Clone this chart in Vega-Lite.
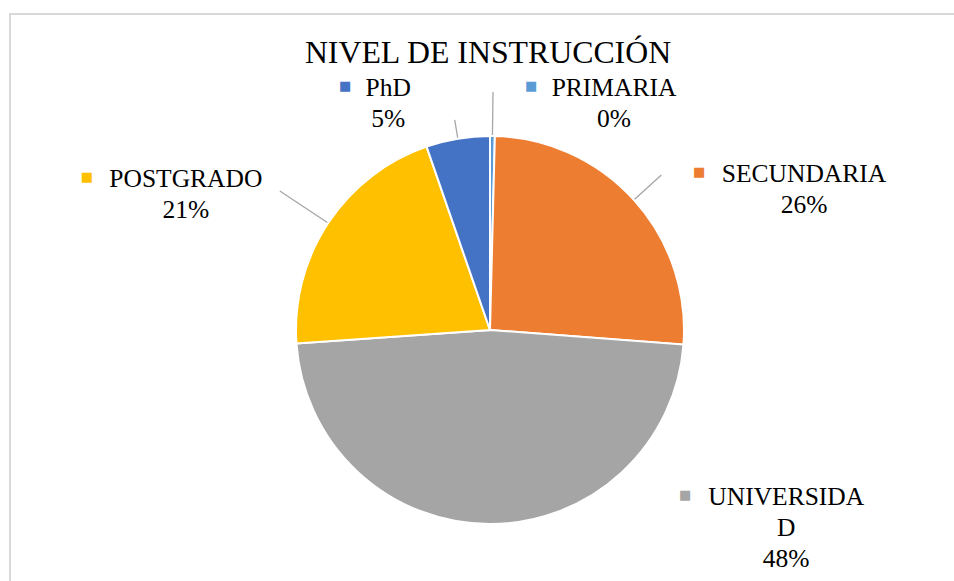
{
  "$schema": "https://vega.github.io/schema/vega-lite/v6.json",
  "width": 960,
  "height": 632,
  "autosize": "none",
  "padding": {"left": 10, "top": 14, "right": -16, "bottom": -65},
  "background": "white",
  "view": {"stroke": "#d9d9d9", "strokeWidth": 2, "fill": "white"},
  "config": {
    "view": {"stroke": "#d9d9d9", "strokeWidth": 2},
    "text": {"font": "Liberation Serif"}
  },
  "title": {
    "text": "NIVEL DE INSTRUCCIÓN",
    "font": "Liberation Serif",
    "fontSize": 31.8,
    "fontWeight": "normal",
    "color": "#000000",
    "anchor": "middle",
    "baseline": "alphabetic",
    "offset": -90,
    "dx": -2
  },
  "data": {
    "values": [
      {"nivel": "PRIMARIA", "porcentaje": 0.4, "orden": 1, "etiqueta": ["PRIMARIA", "0%"]},
      {"nivel": "SECUNDARIA", "porcentaje": 25.8, "orden": 2, "etiqueta": ["SECUNDARIA", "26%"]},
      {"nivel": "UNIVERSIDAD", "porcentaje": 47.7, "orden": 3, "etiqueta": ["UNIVERSIDA", "D", "48%"]},
      {"nivel": "POSTGRADO", "porcentaje": 20.8, "orden": 4, "etiqueta": ["POSTGRADO", "21%"]},
      {"nivel": "PhD", "porcentaje": 5.3, "orden": 5, "etiqueta": ["PhD", "5%"]}
    ]
  },
  "encoding": {
    "theta": {"field": "porcentaje", "type": "quantitative", "stack": true},
    "order": {"field": "orden", "type": "quantitative"}
  },
  "layer": [
    {
      "mark": {"type": "arc", "radius": 194, "stroke": "white", "strokeWidth": 2},
      "encoding": {
        "color": {
          "field": "nivel",
          "type": "nominal",
          "scale": {
            "domain": ["PRIMARIA", "SECUNDARIA", "UNIVERSIDAD", "POSTGRADO", "PhD"],
            "range": ["#5B9BD5", "#ED7D31", "#A5A5A5", "#FFC000", "#4472C4"]
          },
          "legend": null
        }
      }
    },
    {
      "mark": {"type": "arc", "radius": 238, "radius2": 195, "padAngle": 3, "filled": false, "stroke": "#a6a6a6", "strokeWidth": 1.3},
      "encoding": {"strokeOpacity": {"condition": {"test": "datum.nivel === 'PRIMARIA'", "value": 1}, "value": 0}}
    },
    {
      "mark": {"type": "arc", "radius": 231, "radius2": 195, "padAngle": 3, "filled": false, "stroke": "#a6a6a6", "strokeWidth": 1.3},
      "encoding": {"strokeOpacity": {"condition": {"test": "datum.nivel === 'SECUNDARIA'", "value": 1}, "value": 0}}
    },
    {
      "mark": {"type": "arc", "radius": 252, "radius2": 195, "padAngle": 3, "filled": false, "stroke": "#a6a6a6", "strokeWidth": 1.3},
      "encoding": {"strokeOpacity": {"condition": {"test": "datum.nivel === 'POSTGRADO'", "value": 1}, "value": 0}}
    },
    {
      "mark": {"type": "arc", "radius": 213, "radius2": 195, "padAngle": 3, "filled": false, "stroke": "#a6a6a6", "strokeWidth": 1.3},
      "encoding": {"strokeOpacity": {"condition": {"test": "datum.nivel === 'PhD'", "value": 1}, "value": 0}}
    },
    {
      "mark": {"type": "text", "radius": 240, "dx": 121, "dy": 6, "fontSize": 25.5, "lineHeight": 31, "align": "center", "baseline": "alphabetic", "color": "#000000"},
      "encoding": {"text": {"condition": {"test": "datum.nivel === 'PRIMARIA'", "field": "etiqueta"}, "value": ""}}
    },
    {
      "mark": {"type": "text", "radius": 240, "dx": 136, "dy": 13, "fontSize": 25.5, "lineHeight": 31, "align": "center", "baseline": "alphabetic", "color": "#000000"},
      "encoding": {"text": {"condition": {"test": "datum.nivel === 'SECUNDARIA'", "field": "etiqueta"}, "value": ""}}
    },
    {
      "mark": {"type": "text", "radius": 240, "dx": 297, "dy": -65, "fontSize": 25.5, "lineHeight": 31, "align": "center", "baseline": "alphabetic", "color": "#000000"},
      "encoding": {"text": {"condition": {"test": "datum.nivel === 'UNIVERSIDAD'", "field": "etiqueta"}, "value": ""}}
    },
    {
      "mark": {"type": "text", "radius": 240, "dx": -104, "dy": -11, "fontSize": 25.5, "lineHeight": 31, "align": "center", "baseline": "alphabetic", "color": "#000000"},
      "encoding": {"text": {"condition": {"test": "datum.nivel === 'POSTGRADO'", "field": "etiqueta"}, "value": ""}}
    },
    {
      "mark": {"type": "text", "radius": 240, "dx": -62, "dy": 3, "fontSize": 25.5, "lineHeight": 31, "align": "center", "baseline": "alphabetic", "color": "#000000"},
      "encoding": {"text": {"condition": {"test": "datum.nivel === 'PhD'", "field": "etiqueta"}, "value": ""}}
    },
    {
      "mark": {"type": "text", "radius": 240, "dx": 38, "dy": -4, "fontSize": 13, "font": "DejaVu Sans", "align": "center", "baseline": "middle"},
      "encoding": {
        "text": {"condition": {"test": "datum.nivel === 'PRIMARIA'", "value": "■"}, "value": ""},
        "color": {"field": "nivel", "type": "nominal", "legend": null}
      }
    },
    {
      "mark": {"type": "text", "radius": 240, "dx": 31, "dy": 3, "fontSize": 13, "font": "DejaVu Sans", "align": "center", "baseline": "middle"},
      "encoding": {
        "text": {"condition": {"test": "datum.nivel === 'SECUNDARIA'", "value": "■"}, "value": ""},
        "color": {"field": "nivel", "type": "nominal", "legend": null}
      }
    },
    {
      "mark": {"type": "text", "radius": 240, "dx": 196, "dy": -75, "fontSize": 13, "font": "DejaVu Sans", "align": "center", "baseline": "middle"},
      "encoding": {
        "text": {"condition": {"test": "datum.nivel === 'UNIVERSIDAD'", "value": "■"}, "value": ""},
        "color": {"field": "nivel", "type": "nominal", "legend": null}
      }
    },
    {
      "mark": {"type": "text", "radius": 240, "dx": -203, "dy": -21, "fontSize": 13, "font": "DejaVu Sans", "align": "center", "baseline": "middle"},
      "encoding": {
        "text": {"condition": {"test": "datum.nivel === 'POSTGRADO'", "value": "■"}, "value": ""},
        "color": {"field": "nivel", "type": "nominal", "legend": null}
      }
    },
    {
      "mark": {"type": "text", "radius": 240, "dx": -105, "dy": -7, "fontSize": 13, "font": "DejaVu Sans", "align": "center", "baseline": "middle"},
      "encoding": {
        "text": {"condition": {"test": "datum.nivel === 'PhD'", "value": "■"}, "value": ""},
        "color": {"field": "nivel", "type": "nominal", "legend": null}
      }
    }
  ]
}
